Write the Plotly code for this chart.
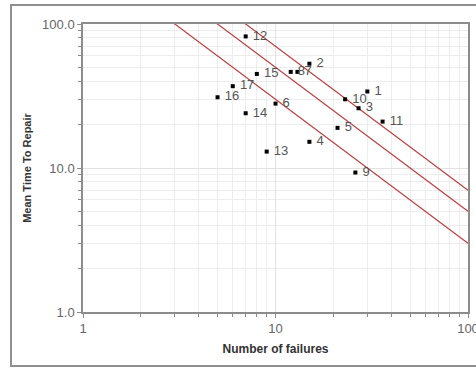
import plotly.graph_objects as go

# Equipment failure data: number of failures vs mean time to repair
item_labels = ["1", "2", "3", "4", "5", "6", "7", "8", "9", "10",
               "11", "12", "13", "14", "15", "16", "17"]
failures = [30, 15, 27, 15, 21, 10, 13, 12, 26, 23,
            36, 7, 9, 7, 8, 5, 6]
mttr = [34, 53, 26, 15.2, 19, 28, 46.5, 46.5, 9.3, 30,
        21, 82, 13, 24, 45, 31, 37]

# Constant total-downtime contours (failures x MTTR)
downtime_levels = [300, 500, 700]
x_span = [1, 100]

FONT = "Liberation Sans, Arial, sans-serif"
LINE_RED = "#b7413f"
NBSP = "\u00a0"

fig = go.Figure()

for level in downtime_levels:
    fig.add_trace(go.Scatter(
        x=x_span, y=[level / v for v in x_span],
        mode="lines", line=dict(color=LINE_RED, width=1.2),
        hoverinfo="skip", showlegend=False, cliponaxis=True,
    ))

fig.add_trace(go.Scatter(
    x=failures, y=mttr, mode="markers+text",
    text=[NBSP + lab for lab in item_labels], textposition="middle right",
    textfont=dict(family=FONT, size=13, color="#555555"),
    marker=dict(symbol="square", size=4, color="#000000"),
    showlegend=False, cliponaxis=False,
))

axis_common = dict(
    type="log", range=[0, 2], dtick=1,
    showline=True, linecolor="#8c8c8c", linewidth=1.5, mirror=True,
    ticks="outside", ticklen=4, tickcolor="#8c8c8c",
    showgrid=True, gridcolor="#e2e2e2", gridwidth=1,
    minor=dict(dtick="D1", ticks="outside", ticklen=3, tickcolor="#8c8c8c",
               showgrid=True, gridcolor="#ededed"),
    tickfont=dict(family=FONT, size=13, color="#666666"),
    ticklabeloverflow="allow",
    zeroline=False, automargin=False,
)

fig.update_xaxes(
    **axis_common,
    title=dict(text="<b>Number of failures</b>", standoff=9,
               font=dict(family=FONT, size=12, color="#333333")),
)
fig.update_yaxes(
    **axis_common,
    tickformat=".1f",
    title=dict(text="<b>Mean Time To Repair</b>", standoff=8,
               font=dict(family=FONT, size=11, color="#333333")),
)

# Chart frame around the whole figure
fig.add_shape(type="rect", xref="paper", yref="paper",
              x0=-0.187, x1=1.2, y0=-0.1875, y1=1.066,
              line=dict(color="#8f8f8f", width=2), layer="below")

fig.update_layout(
    template="none",
    width=476, height=369,
    margin=dict(l=83, r=8, t=24, b=57),
    paper_bgcolor="#ffffff", plot_bgcolor="#ffffff",
    font=dict(family=FONT),
)

fig.write_html("out.html")
